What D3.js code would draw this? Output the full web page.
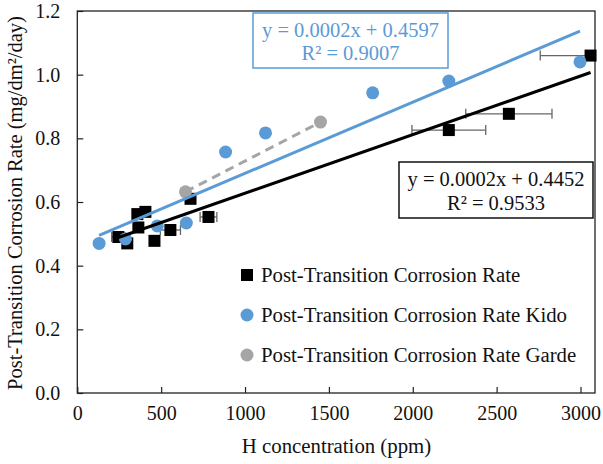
<!DOCTYPE html>
<html><head><meta charset="utf-8">
<script src="https://cdn.jsdelivr.net/npm/d3@7"></script>
<style>body{margin:0;background:#fff}svg{display:block}</style>
</head><body><svg id="c" width="603" height="464"></svg>
<script>
// Post-Transition Corrosion Rate (this work), with horizontal error bars
const blackX = [245, 298, 364, 358, 406, 460, 555, 675, 782, 2215, 2573, 3060];
const blackY = [0.49, 0.47, 0.52, 0.562, 0.569, 0.478, 0.512, 0.61, 0.553, 0.826, 0.877, 1.06];
const blackErr = [40, 0, 0, 0, 0, 0, 60, 0, 50, 220, 257, 300];
// Kido
const kidoX = [130, 287, 477, 650, 884, 1122, 1761, 2215, 2997];
const kidoY = [0.47, 0.484, 0.525, 0.534, 0.757, 0.817, 0.943, 0.98, 1.04];
// Garde
const gardeX = [645, 1450];
const gardeY = [0.632, 0.851];

const xTicks = [0, 500, 1000, 1500, 2000, 2500, 3000];
const yTicks = [0, 0.2, 0.4, 0.6, 0.8, 1.0, 1.2];
const legendLabels = ["Post-Transition Corrosion Rate", "Post-Transition Corrosion Rate Kido", "Post-Transition Corrosion Rate Garde"];
const eqBlack = ["y = 0.0002x + 0.4452", "R\u00b2 = 0.9533"];
const eqBlue = ["y = 0.0002x + 0.4597", "R\u00b2 = 0.9007"];

const BLUE = "#5b9bd5", GRAY = "#a5a5a5";
const FONT = '"Liberation Serif"';
const svg = d3.select("#c");
const L = 77.3, R = 595, T = 11, B = 393;
const x = d3.scaleLinear().domain([0, 3000]).range([L, 580.5]);
const y = d3.scaleLinear().domain([0, 1.2]).range([B, T]);

function fit(xs, ys) {
  const n = xs.length, mx = d3.mean(xs), my = d3.mean(ys);
  let sxy = 0, sxx = 0;
  for (let i = 0; i < n; i++) { sxy += (xs[i]-mx)*(ys[i]-my); sxx += (xs[i]-mx)**2; }
  const m = sxy / sxx; return { m, b: my - m*mx, x0: d3.min(xs), x1: d3.max(xs) };
}
function txt(sel, size) { return sel.style("font-family", FONT).style("font-size", size + "px").attr("fill", "#111"); }

// frame
svg.append("rect").attr("x", L).attr("y", T).attr("width", R-L).attr("height", B-T)
  .attr("fill", "none").attr("stroke", "#222").attr("stroke-width", 1.3);

// axes
const xa = svg.append("g").attr("transform", `translate(0,${B})`)
  .call(d3.axisBottom(x).tickValues(xTicks).tickSizeInner(-6).tickSizeOuter(0).tickPadding(13).tickFormat(d3.format("d")));
const ya = svg.append("g").attr("transform", `translate(${L},0)`)
  .call(d3.axisLeft(y).tickValues(yTicks).tickSizeInner(-6).tickSizeOuter(0).tickPadding(17).tickFormat(d3.format(".1f")));
[xa, ya].forEach(g => {
  g.select(".domain").remove();
  g.selectAll("line").attr("stroke", "#222").attr("stroke-width", 1.2);
  txt(g.selectAll("text"), 20);
});

// error bars
const eb = svg.append("g").attr("stroke", "#666").attr("stroke-width", 1.3);
blackX.forEach((v, i) => {
  const e = blackErr[i]; if (!e) return;
  const x0 = x(v - e), x1 = Math.min(x(v + e), R), yy = y(blackY[i]);
  eb.append("line").attr("x1", x0).attr("x2", x1).attr("y1", yy).attr("y2", yy);
  eb.append("line").attr("x1", x0).attr("x2", x0).attr("y1", yy-5).attr("y2", yy+5);
  if (x(v + e) <= R) eb.append("line").attr("x1", x1).attr("x2", x1).attr("y1", yy-5).attr("y2", yy+5);
});

// markers
const s = 12;
svg.append("g").selectAll("rect").data(blackX).join("rect")
  .attr("x", d => x(d)-s/2).attr("y", (d,i) => y(blackY[i])-s/2).attr("width", s).attr("height", s).attr("fill", "#000");
svg.append("g").selectAll("circle").data(kidoX).join("circle")
  .attr("cx", d => x(d)).attr("cy", (d,i) => y(kidoY[i])).attr("r", 6.5).attr("fill", BLUE);
svg.append("g").selectAll("circle").data(gardeX).join("circle")
  .attr("cx", d => x(d)).attr("cy", (d,i) => y(gardeY[i])).attr("r", 6.5).attr("fill", GRAY);

// trendlines
const fb = fit(blackX, blackY), fk = fit(kidoX, kidoY), fg = fit(gardeX, gardeY);
const line = (f, col, dash) => svg.append("line")
  .attr("x1", x(f.x0)).attr("y1", y(f.m*f.x0+f.b)).attr("x2", x(f.x1)).attr("y2", y(f.m*f.x1+f.b))
  .attr("stroke", col).attr("stroke-width", 3).attr("stroke-dasharray", dash || null);
line(fg, GRAY, "9,6");
line(fk, BLUE);
line(fb, "#000");

// equation boxes
function eqBox(x0, y0, w, h, col, lines, cx, b1, b2) {
  svg.append("rect").attr("x", x0).attr("y", y0).attr("width", w).attr("height", h)
    .attr("fill", "#fff").attr("stroke", col).attr("stroke-width", 1.5);
  txt(svg.append("text").attr("x", cx).attr("y", b1).attr("text-anchor", "middle"), 20.5).attr("fill", col).text(lines[0]);
  txt(svg.append("text").attr("x", cx).attr("y", b2).attr("text-anchor", "middle"), 20.5).attr("fill", col).text(lines[1]);
}
eqBox(253, 13, 195, 55, BLUE, eqBlue, 350.5, 37, 60);
eqBox(399, 162, 194, 56, "#111", eqBlack, 496, 186, 210);

// legend
const lg = svg.append("g");
const ly = [275, 315, 355];
lg.append("rect").attr("x", 241).attr("y", ly[0]-6).attr("width", 12).attr("height", 12).attr("fill", "#000");
lg.append("circle").attr("cx", 247).attr("cy", ly[1]).attr("r", 6.5).attr("fill", BLUE);
lg.append("circle").attr("cx", 247).attr("cy", ly[2]).attr("r", 6.5).attr("fill", GRAY);
legendLabels.forEach((t, i) => txt(lg.append("text").attr("x", 261).attr("y", ly[i]+7), 20.8).text(t));

// axis titles
txt(svg.append("text").attr("x", 336.5).attr("y", 453).attr("text-anchor", "middle"), 20.8).text("H concentration (ppm)");
txt(svg.append("text").attr("transform", "translate(22,203) rotate(-90)").attr("text-anchor", "middle"), 20.5)
  .text("Post-Transition Corrosion Rate (mg/dm\u00b2/day)");
</script></body></html>
